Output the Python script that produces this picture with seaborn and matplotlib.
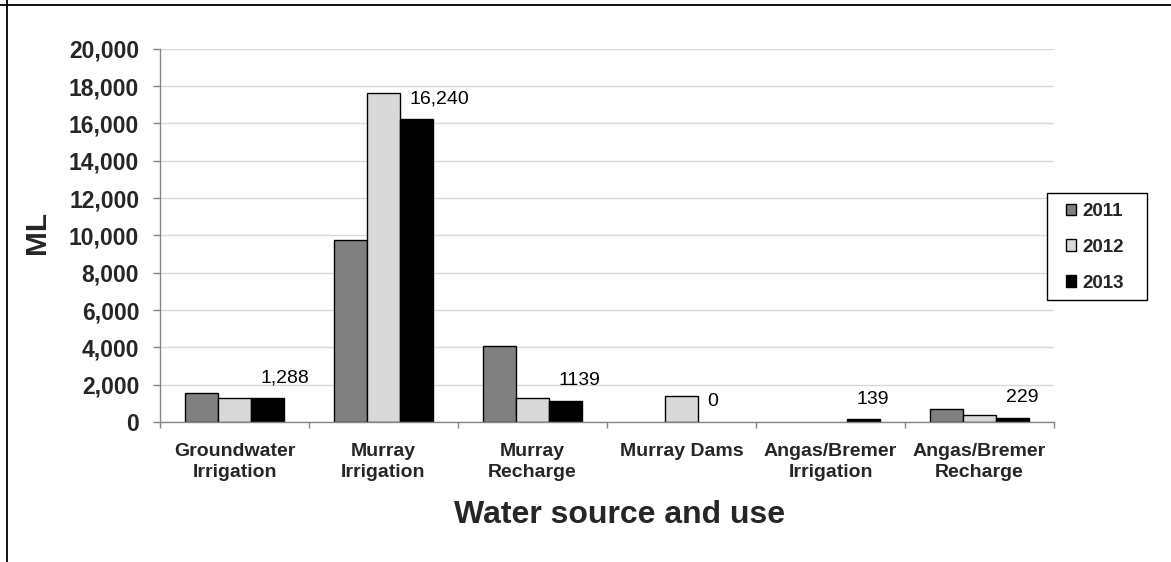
import numpy as np
import pandas as pd
import matplotlib
matplotlib.use("Agg")
import matplotlib.pyplot as plt
import seaborn as sns
from matplotlib.patches import Patch, Rectangle
from matplotlib.lines import Line2D
from matplotlib.ticker import FuncFormatter, FixedLocator

categories = ["Groundwater\nIrrigation", "Murray\nIrrigation", "Murray\nRecharge",
              "Murray Dams", "Angas/Bremer\nIrrigation", "Angas/Bremer\nRecharge"]
years = ["2011", "2012", "2013"]
values_2011 = [1540, 9750, 4070, 0, 0, 680]
values_2012 = [1300, 17650, 1300, 1400, 0, 370]
values_2013 = [1288, 16240, 1139, 0, 139, 229]
labels_2013 = ["1,288", "16,240", "1139", "0", "139", "229"]
colors = ["#808080", "#d9d9d9", "#000000"]

df = pd.DataFrame({
    "category": categories * 3,
    "year": [y for y in years for _ in categories],
    "value": values_2011 + values_2012 + values_2013,
})

sns.set_style("white")
plt.rcParams["font.family"] = ["Liberation Sans", "DejaVu Sans"]

W, H = 1171, 562
fig = plt.figure(figsize=(W/100, H/100), dpi=100)
ax = fig.add_axes([160/W, 1-422/H, (1054-160)/W, (422-48.7)/H])

sns.barplot(data=df, x="category", y="value", hue="year", order=categories,
            hue_order=years, palette=colors, width=0.665, gap=0,
            edgecolor="#000000", linewidth=1.0, saturation=1, ax=ax, legend=False,
            zorder=3)

# no outline on empty bars
for p in ax.patches:
    if p.get_height() == 0:
        p.set_linewidth(0)

ax.set_ylim(0, 20000)
ax.set_xlim(-0.5, len(categories) - 0.5)
ax.yaxis.set_major_locator(FixedLocator(np.arange(0, 20001, 2000)))
ax.yaxis.set_major_formatter(FuncFormatter(lambda v, p: f"{int(v):,}"))
ax.grid(axis="y", color="#d9d9d9", linewidth=1.0, zorder=0)
ax.set_axisbelow(True)

for s in ["top", "right"]:
    ax.spines[s].set_visible(False)
for s in ["left", "bottom"]:
    ax.spines[s].set_color("#868686")
    ax.spines[s].set_linewidth(1.0)
    ax.spines[s].set_zorder(4)

ax.tick_params(axis="y", which="major", direction="out", length=5, width=1,
               color="#868686", labelsize=16.5, pad=10, left=True)
for t in ax.get_yticklabels():
    t.set_fontweight("bold")

ax.set_xticks(range(len(categories)))
ax.set_xticklabels(categories, fontsize=14, fontweight="bold")
for t in ax.get_xticklabels():
    t.set_linespacing(1.32)
ax.tick_params(axis="x", which="major", length=0, pad=15)
ax.set_xticks(np.arange(-0.5, len(categories)), minor=True)
ax.tick_params(axis="x", which="minor", direction="out", length=4.5, width=1,
               color="#868686", bottom=True)

ax.set_xlabel("")
ax.set_ylabel("")

# data labels on 2013 bars
for bar, lab in zip(ax.containers[2], labels_2013):
    cx = bar.get_x() + bar.get_width() / 2
    h = bar.get_height()
    ax.annotate(lab, xy=(cx, h), xytext=(-5, 14.5), textcoords="offset points",
                ha="left", va="center", fontsize=14, color="#000000", zorder=5)

fig.text(37.5/W, 1-232/H, "ML", rotation=90, ha="center", va="center",
         fontsize=21.5, fontweight="bold")
fig.text(620/W, 1-515/H, "Water source and use", ha="center", va="center",
         fontsize=23, fontweight="bold")

# legend: frame drawn separately, entries placed inside
fig.add_artist(Rectangle((1047/W, 1-300/H), 100/W, 107/H, transform=fig.transFigure,
                         facecolor="white", edgecolor="#000000", linewidth=1.0,
                         zorder=4))
handles = [Patch(facecolor=c, edgecolor="#000000", linewidth=1.0) for c in colors]
leg = fig.legend(handles, years, loc="upper left",
                 bbox_to_anchor=(1066/W, 1-203/H), frameon=False,
                 prop={"weight": "bold", "size": 13.5},
                 handlelength=0.55, handleheight=0.55, handletextpad=0.3,
                 labelspacing=1.0, borderpad=0, borderaxespad=0)
leg.set_zorder(5)

# outer frame
fig.add_artist(Line2D([0, 1], [1-5/H, 1-5/H], transform=fig.transFigure,
                      color="#000000", linewidth=1.3))
fig.add_artist(Line2D([7/W, 7/W], [0, 1], transform=fig.transFigure,
                      color="#000000", linewidth=1.3))

fig.savefig("out.png", dpi=100)
